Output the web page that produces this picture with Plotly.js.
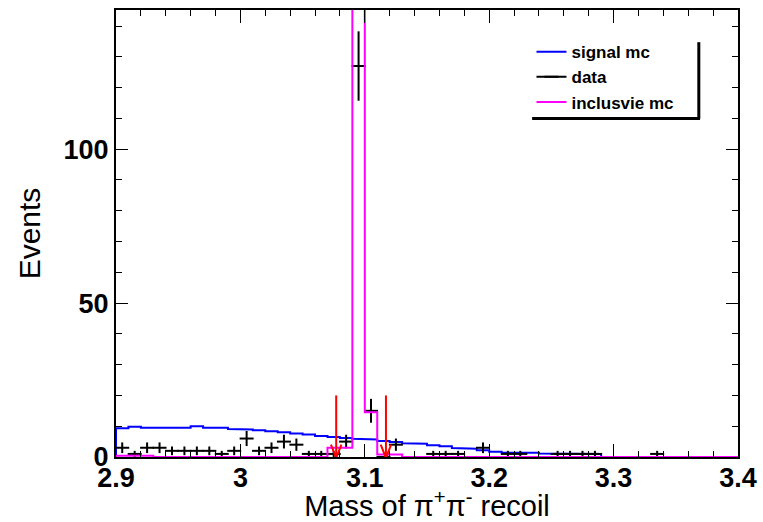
<!DOCTYPE html>
<html>
<head>
<meta charset="utf-8">
<script src="https://cdn.plot.ly/plotly-3.0.1.min.js"></script>
<style>
  html, body { margin: 0; padding: 0; background: #ffffff; }
  #chart { width: 763px; height: 522px; }
</style>
</head>
<body>
<div id="chart"></div>
<script>
// Histogram binning of the pi+ pi- recoil mass (GeV)
const histRange = [2.9, 3.4];
const nBins = 50;

// Observed events per bin
const dataCounts = [
  3, 1, 3, 3, 2, 2, 2, 2, 1, 2,
  6, 2, 3, 5, 4, 1, 1, 1, 5, 127,
  15, 0, 4, 0, 0, 1, 1, 1, 0, 3,
  0, 1, 1, 0, 0, 1, 1, 1, 1, 0,
  0, 0, 0, 1, 0, 0, 0, 0, 0, 0
];

// Signal MC (normalised)
const signalMc = [
  9.3, 9.8, 9.5, 9.5, 9.5, 9.5, 10.0, 9.5, 9.5, 9.1,
  8.9, 8.7, 8.4, 8.0, 7.6, 7.3, 6.8, 6.5, 6.2, 5.9,
  5.7, 5.2, 4.9, 4.5, 4.3, 3.8, 3.5, 2.9, 2.7, 2.2,
  1.7, 1.4, 1.4, 1.4, 1.1, 1.0, 1.0, 1.0, 1.0, 0,
  0, 0, 0, 0, 0, 0, 0, 0, 0, 0
];

// Inclusive MC
const inclusiveMc = [
  0.4, 0.4, 0.4, 0, 0, 0, 0, 0, 0, 0,
  0, 0, 0, 0, 0, 0, 0, 3, 3, 180,
  14.5, 0.8, 0.8, 0, 0, 0, 0, 0, 0, 0,
  0, 0, 0, 0, 0, 0, 0, 0, 0, 0,
  0, 0, 0, 0, 0, 0, 0, 0, 0, 0
];

// Mass window cut edges marked with arrows
const cutEdges = [3.077, 3.117];
const arrowTop = 20;

const legendNames = ['signal mc', 'data', 'inclusvie mc'];

// ---- helpers ----
const binWidth = (histRange[1] - histRange[0]) / nBins;
const binEdges = Array.from({length: nBins + 1}, (_, i) => histRange[0] + i * binWidth);
const binCenters = Array.from({length: nBins}, (_, i) => histRange[0] + (i + 0.5) * binWidth);

// ROOT-like step outline: closes to zero at both ends
function stepOutline(values) {
  const xs = [binEdges[0]], ys = [0];
  values.forEach((v, i) => {
    xs.push(binEdges[i], binEdges[i + 1]);
    ys.push(v, v);
  });
  xs.push(binEdges[nBins]);
  ys.push(0);
  return {x: xs, y: ys};
}

// Points separated by gaps so that no connecting line is drawn between them,
// while the legend still shows a line sample for the data
function isolatedPoints(xs, ys, errs) {
  const px = [], py = [], pe = [];
  xs.forEach((x, i) => {
    px.push(x, null);
    py.push(ys[i], null);
    pe.push(errs[i], 0);
  });
  return {x: px, y: py, e: pe};
}

const FONT = 'Liberation Sans, Arial, Helvetica, sans-serif';

const sig = stepOutline(signalMc);
const inc = stepOutline(inclusiveMc);
const pts = isolatedPoints(binCenters, dataCounts, dataCounts.map(v => Math.sqrt(v)));

const traces = [
  {
    type: 'scatter', mode: 'lines', name: legendNames[0],
    x: sig.x, y: sig.y,
    line: {color: '#0000ff', width: 2},
    legendgroup: 'g1'
  },
  {
    type: 'scatter', mode: 'lines+markers', name: legendNames[1],
    x: pts.x, y: pts.y, connectgaps: false,
    line: {color: '#000000', width: 2},
    marker: {symbol: 'line-ew', size: 10, color: '#000000', line: {color: '#000000', width: 2}},
    error_y: {type: 'data', array: pts.e, visible: true,
              color: '#000000', thickness: 2, width: 0},
    legendgroup: 'g2'
  },
  {
    type: 'scatter', mode: 'lines', name: legendNames[2],
    x: inc.x, y: inc.y,
    line: {color: '#ff00ff', width: 2},
    legendgroup: 'g3'
  }
];

// arrows at the cut edges
const shapes = [];
cutEdges.forEach(xc => {
  shapes.push({type: 'line', xref: 'x', yref: 'y', x0: xc, x1: xc, y0: arrowTop, y1: -0.3,
               line: {color: '#ff0000', width: 2}});
  shapes.push({type: 'path', xref: 'x', yref: 'y',
               path: `M ${xc - 0.0042} 4 L ${xc} -0.3 L ${xc + 0.0042} 4`,
               line: {color: '#ff0000', width: 2}});
});
// legend box shadow (right and bottom edges)
shapes.push({type: 'line', xref: 'paper', yref: 'paper', x0: 0.937, x1: 0.937, y0: 0.757, y1: 0.928,
             line: {color: '#000000', width: 3}});
shapes.push({type: 'line', xref: 'paper', yref: 'paper', x0: 0.669, x1: 0.939, y0: 0.757, y1: 0.757,
             line: {color: '#000000', width: 3}});

const layout = {
  width: 763, height: 522,
  margin: {l: 116, r: 25, t: 10, b: 65},
  paper_bgcolor: '#ffffff', plot_bgcolor: '#ffffff',
  showlegend: true,
  legend: {
    x: 0.668, y: 0.946, xanchor: 'left', yanchor: 'top',
    bgcolor: 'rgba(0,0,0,0)', borderwidth: 0,
    font: {family: FONT, size: 17, color: '#000000', weight: 'bold'},
    traceorder: 'grouped', tracegroupgap: 0,
    itemwidth: 30
  },
  xaxis: {
    range: histRange, tick0: 2.9, dtick: 0.1,
    ticks: 'inside', ticklen: 13, tickwidth: 1, tickcolor: '#000000',
    minor: {dtick: 0.02, ticks: 'inside', ticklen: 6, tickcolor: '#000000'},
    showline: true, linecolor: '#000000', linewidth: 2, mirror: 'ticks',
    showgrid: false, zeroline: false,
    ticklabelstandoff: -4,
    tickfont: {family: FONT, size: 27, color: '#000000', weight: 'bold'},
    title: {text: 'Mass of \u03c0<sup>+</sup>\u03c0<sup>-</sup> recoil',
            font: {family: FONT, size: 29, color: '#000000'}, standoff: 8}
  },
  yaxis: {
    range: [0, 145.2], tick0: 0, dtick: 50,
    ticks: 'inside', ticklen: 12, tickwidth: 1, tickcolor: '#000000',
    minor: {dtick: 10, ticks: 'inside', ticklen: 6, tickcolor: '#000000'},
    showline: true, linecolor: '#000000', linewidth: 2, mirror: 'ticks',
    showgrid: false, zeroline: false,
    tickfont: {family: FONT, size: 27, color: '#000000', weight: 'bold'},
    title: {text: 'Events', font: {family: FONT, size: 30, color: '#000000'}, standoff: 14}
  },
  shapes: shapes
};

Plotly.newPlot('chart', traces, layout, {staticPlot: true, displayModeBar: false});
</script>
</body>
</html>
